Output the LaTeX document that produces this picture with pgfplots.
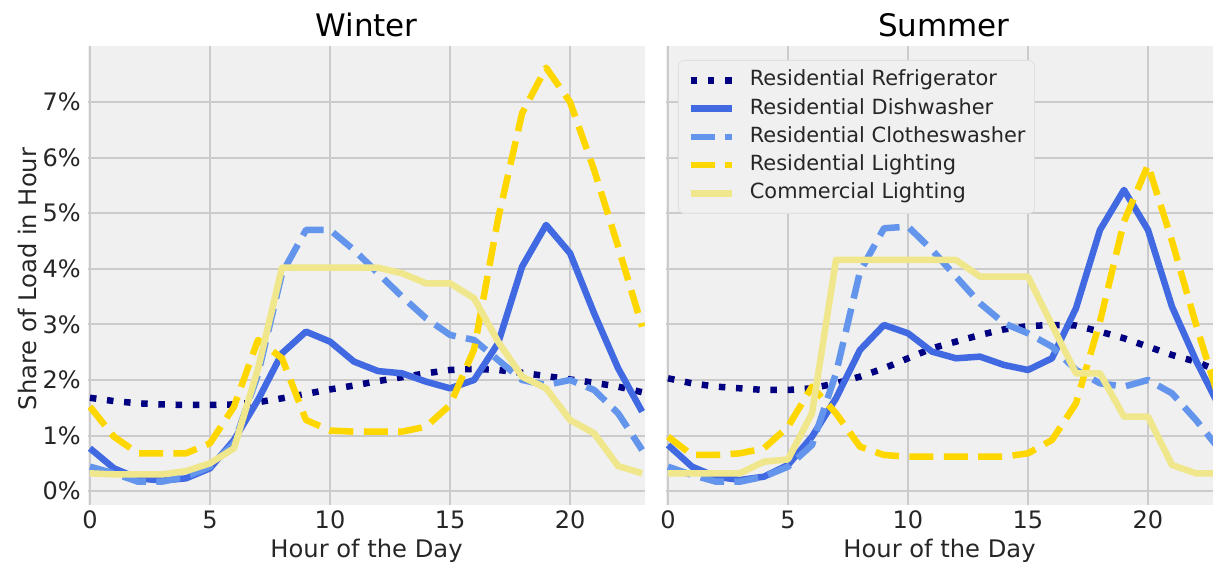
\documentclass[border=0pt]{standalone}
\usepackage{fontspec}
\setmainfont{DejaVu Sans}
\usepackage{pgfplots}
\usepackage{pgfplotstable}
\pgfplotsset{compat=1.18}

\definecolor{bg}{HTML}{F0F0F0}
\definecolor{gridc}{HTML}{CBCBCB}
\definecolor{navyc}{HTML}{000080}
\definecolor{royal}{HTML}{4169E1}
\definecolor{cornflower}{HTML}{6495ED}
\definecolor{goldc}{HTML}{FFD700}
\definecolor{khakic}{HTML}{F0E68C}

% share of load in each hour, %
\pgfplotstableread{
h  fridge dish clothes reslight comlight
0  1.68 0.77 0.44 1.52 0.32
1  1.62 0.41 0.32 0.98 0.30
2  1.58 0.23 0.17 0.68 0.30
3  1.56 0.19 0.17 0.68 0.30
4  1.55 0.23 0.26 0.68 0.36
5  1.55 0.41 0.44 0.86 0.50
6  1.56 0.92 0.86 1.52 0.77
7  1.60 1.64 2.10 2.72 2.20
8  1.67 2.48 3.92 2.39 4.02
9  1.75 2.87 4.70 1.28 4.02
10 1.83 2.69 4.70 1.09 4.02
11 1.90 2.33 4.34 1.07 4.02
12 1.98 2.16 3.92 1.07 4.02
13 2.05 2.12 3.50 1.07 3.92
14 2.12 1.97 3.11 1.16 3.74
15 2.18 1.85 2.81 1.55 3.74
16 2.20 2.00 2.72 2.55 3.47
17 2.18 2.66 2.36 4.90 2.69
18 2.13 4.04 2.00 6.80 2.06
19 2.07 4.79 1.91 7.62 1.85
20 2.01 4.28 2.00 7.00 1.28
21 1.95 3.20 1.82 5.78 1.04
22 1.88 2.21 1.40 4.40 0.45
23 1.78 1.43 0.74 2.96 0.32
}\winter

\pgfplotstableread{
h  fridge dish clothes reslight comlight
0  2.03 0.83 0.44 0.98 0.32
1  1.94 0.44 0.29 0.65 0.32
2  1.88 0.26 0.17 0.65 0.32
3  1.85 0.20 0.17 0.68 0.32
4  1.82 0.26 0.26 0.77 0.53
5  1.82 0.47 0.44 1.16 0.57
6  1.85 0.98 0.83 1.88 1.40
7  1.94 1.67 2.12 1.40 4.16
8  2.06 2.54 3.95 0.80 4.16
9  2.21 2.99 4.73 0.65 4.16
10 2.39 2.84 4.76 0.62 4.16
11 2.57 2.51 4.34 0.62 4.16
12 2.69 2.39 3.86 0.62 4.16
13 2.81 2.42 3.38 0.62 3.86
14 2.91 2.27 3.02 0.62 3.86
15 2.97 2.18 2.84 0.68 3.86
16 2.99 2.39 2.60 0.92 2.99
17 2.98 3.29 2.18 1.58 2.12
18 2.87 4.70 1.94 3.05 2.12
19 2.75 5.42 1.88 4.85 1.34
20 2.60 4.70 2.00 5.87 1.34
21 2.45 3.32 1.76 4.50 0.47
22 2.33 2.35 1.28 3.00 0.32
23 2.15 1.50 0.74 1.60 0.32
}\summer

\pgfplotsset{
  panel/.style={
    scale only axis, height=229.5pt,
    ymin=-0.25, ymax=8.01,
    axis background/.style={fill=bg},
    axis line style={draw=none},
    major tick length=0pt,
    grid=major, grid style={gridc, line width=1pt},
    xtick={0,5,10,15,20}, ytick={0,1,...,7},
    tick label style={font=\fontsize{12}{14}\selectfont, text=black!85},
    /pgf/number format/assume math mode=true,
    xticklabel style={anchor=base, inner sep=0pt, yshift=-11.5pt},
    yticklabel style={anchor=east, inner sep=0pt, xshift=-3.5pt},
    yticklabel={\pgfmathprintnumber{\tick}\%},
    every axis title/.style={anchor=base, inner sep=0pt, yshift=4.5pt,
      font=\fontsize{15.5}{18}\selectfont},
    every axis x label/.style={at={(rel axis cs:0.5,0)}, anchor=base,
      inner sep=0pt, yshift=-26pt, font=\fontsize{12.1}{14}\selectfont, text=black!85},
    every axis plot/.append style={line width=3.25pt, line join=round},
    xlabel={Hour of the Day},
  },
  fridge/.style={navyc, dash pattern=on 3.25pt off 5.35pt},
  dish/.style={royal},
  clothes/.style={cornflower, dash pattern=on 12pt off 5.2pt},
  reslight/.style={goldc, dash pattern=on 12pt off 5.2pt},
  comlight/.style={khakic},
}

\begin{document}
\begin{tikzpicture}
\useasboundingbox (0,0) rectangle (606.5pt,281.5pt);

\begin{axis}[panel, at={(44pt,29pt)}, anchor=south west,
  width=278.5pt, xmin=-0.08, xmax=23.12,
  title={Winter}, title style={at={(rel axis cs:0.5,1)}}]
  \addplot[fridge] table[x=h, y=fridge] {\winter};
  \addplot[dish] table[x=h, y=dish] {\winter};
  \addplot[clothes] table[x=h, y=clothes] {\winter};
  \addplot[reslight] table[x=h, y=reslight] {\winter};
  \addplot[comlight] table[x=h, y=comlight] {\winter};
\end{axis}

\begin{axis}[panel, at={(333pt,29pt)}, anchor=south west,
  width=273.5pt, xmin=-0.083, xmax=22.71, yticklabels={},
  title={Summer}, title style={at={(rel axis cs:0.508,1)}},
  legend cell align=left,
  legend image code/.code={\draw[#1] (0pt,0pt) -- (20.5pt,0pt);},
  legend style={at={(rel axis cs:0.0219,0.9695)}, anchor=north west,
    fill=bg, draw=black!12, rounded corners=3pt,
    font=\fontsize{10.45}{12}\selectfont, text=black!85,
    inner xsep=4.5pt, inner ysep=4.7pt, row sep=3.65pt, column sep=7.5pt,
    nodes={inner sep=0pt, text height=8pt, text depth=2.5pt}}]
  \addplot[fridge] table[x=h, y=fridge] {\summer};
  \addplot[dish] table[x=h, y=dish] {\summer};
  \addplot[clothes] table[x=h, y=clothes] {\summer};
  \addplot[reslight] table[x=h, y=reslight] {\summer};
  \addplot[comlight] table[x=h, y=comlight] {\summer};
  \legend{Residential Refrigerator, Residential Dishwasher,
    Residential Clotheswasher, Residential Lighting, Commercial Lighting}
\end{axis}

\node[rotate=90, inner sep=0pt, font=\fontsize{12.1}{14}\selectfont, text=black!85]
  at (13.5pt,142pt) {Share of Load in Hour};
\end{tikzpicture}
\end{document}
